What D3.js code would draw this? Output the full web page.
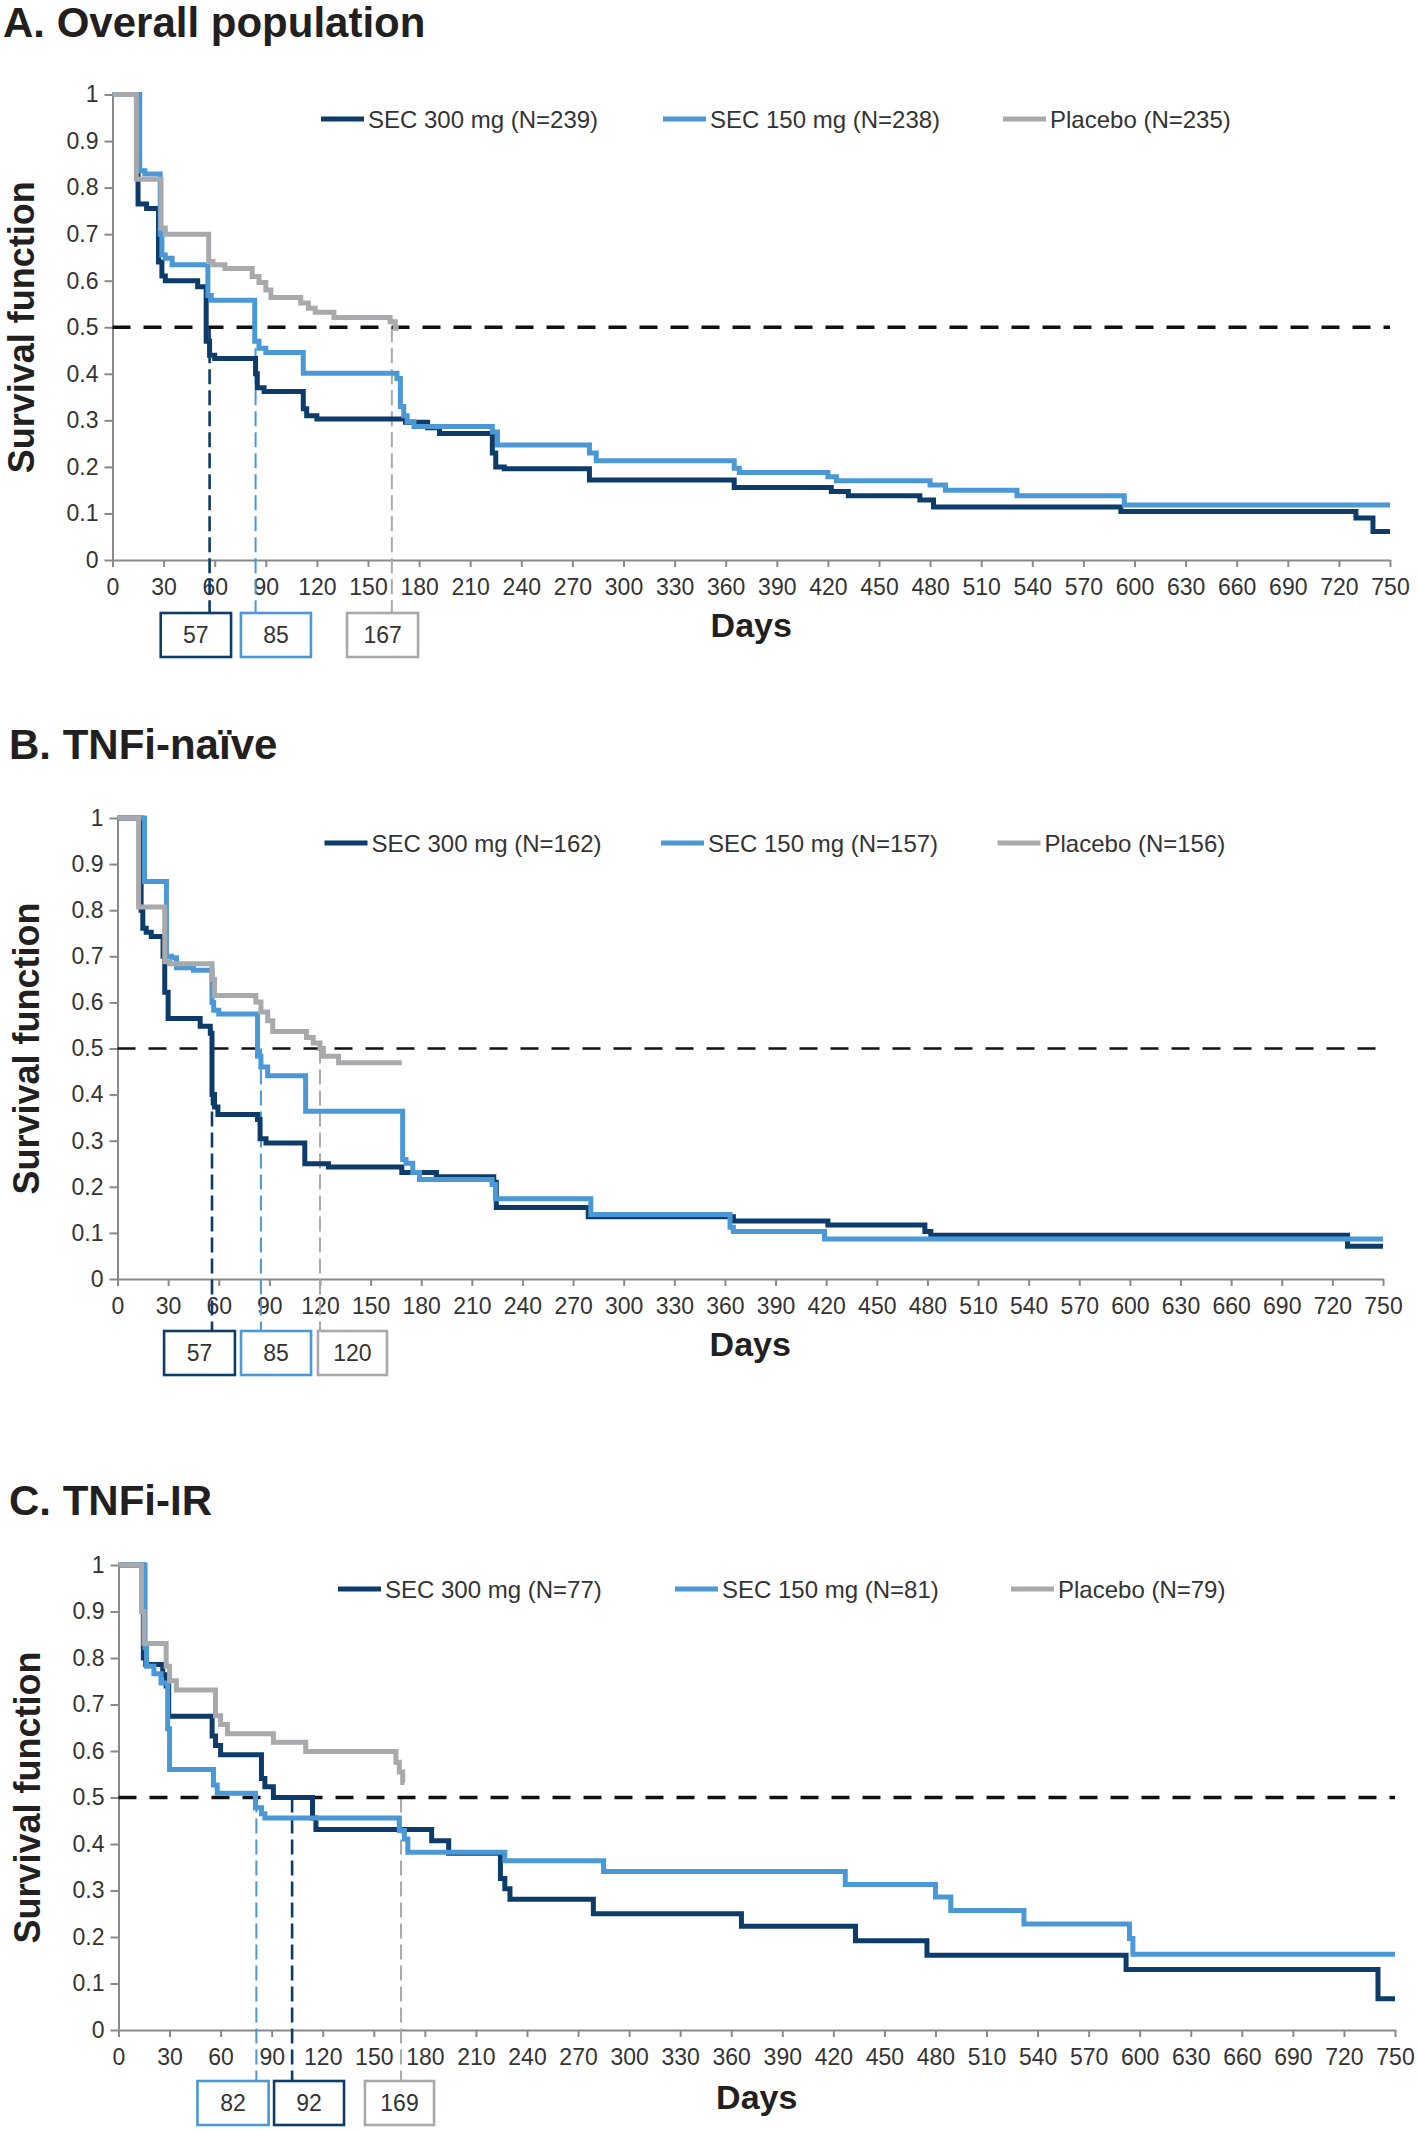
<!DOCTYPE html>
<html>
<head>
<meta charset="utf-8">
<title>Survival curves</title>
<script src="https://d3js.org/d3.v7.min.js"></script>
<style>
body { margin: 0; background: #fff; }
svg { font-family: "Liberation Sans", Arial, sans-serif; }
.axis path, .axis line { stroke: #8a8a8a; stroke-width: 2; }
.axis text { fill: #333; font-size: 23px; font-family: "Liberation Sans", Arial, sans-serif; }
</style>
</head>
<body>
<script>
// ---- data: [day, survival] at each step ----
var aDark = [[0,1],[15,0.765],[20,0.755],[27,0.64],[29,0.61],[31,0.60],[50,0.587],[55,0.47],[57,0.44],[60,0.433],[84,0.40],[85,0.37],[89,0.362],[112,0.325],[114,0.31],[120,0.303],[172,0.296],[185,0.284],[192,0.272],[223,0.23],[225,0.20],[230,0.196],[280,0.172],[365,0.156],[422,0.147],[432,0.138],[474,0.129],[482,0.114],[592,0.104],[730,0.09],[740,0.061],[750,0.061]];
var aLight = [[0,1],[16,0.836],[19,0.829],[28,0.70],[29,0.655],[31,0.648],[35,0.634],[56,0.568],[58,0.558],[83.5,0.47],[86,0.455],[90,0.446],[112,0.401],[167,0.39],[169,0.33],[171,0.31],[173,0.297],[177,0.287],[223,0.275],[226,0.247],[280,0.23],[284,0.213],[365,0.197],[368,0.188],[420,0.179],[425,0.17],[480,0.161],[489,0.15],[531,0.138],[594,0.118],[750,0.118]];
var aGray = [[0,1],[14,0.818],[28.5,0.713],[31,0.70],[56.5,0.641],[59,0.634],[66,0.626],[82,0.609],[86,0.596],[90,0.58],[93,0.564],[110.5,0.552],[115,0.541],[119,0.532],[130,0.521],[163,0.512],[166,0.498],[168,0.498]];

var bDark = [[0,1],[14,0.80],[15,0.761],[17,0.752],[20,0.743],[27,0.70],[28,0.622],[30,0.565],[49,0.548],[55,0.533],[56,0.40],[57.5,0.373],[59.5,0.357],[83,0.346],[84.5,0.304],[88,0.295],[111,0.25],[125,0.243],[168.5,0.231],[189,0.222],[223,0.21],[224.5,0.155],[279,0.135],[365,0.126],[421,0.117],[478.5,0.103],[482,0.095],[729,0.071],[750,0.071]];
var bLight = [[0,1],[16,0.862],[29,0.70],[32,0.697],[35,0.675],[45,0.67],[56,0.60],[57,0.583],[60,0.575],[83,0.483],[85,0.46],[89,0.441],[111.5,0.364],[169,0.259],[171,0.251],[175,0.231],[179,0.216],[222,0.205],[224,0.174],[280.5,0.14],[363,0.112],[365,0.103],[419,0.087],[750,0.087]];
var bGray = [[0,1],[12.5,0.807],[28,0.688],[31,0.684],[56,0.65],[57.5,0.615],[82,0.601],[85,0.579],[89,0.56],[92,0.537],[112,0.524],[116,0.512],[120,0.50],[122,0.483],[131,0.469],[168.5,0.469]];

var cDark = [[0,1],[14.6,0.80],[16,0.786],[26,0.764],[28,0.74],[29.5,0.675],[55,0.632],[57,0.612],[60,0.592],[84,0.541],[86,0.523],[91,0.50],[114,0.456],[116,0.431],[184,0.407],[194,0.38],[224.4,0.326],[227,0.304],[230,0.281],[279,0.25],[366,0.223],[433,0.192],[475,0.161],[592,0.13],[740,0.067],[750,0.067]];
var cLight = [[0,1],[15.6,0.822],[16.5,0.782],[20.8,0.766],[25,0.746],[28.9,0.648],[30,0.56],[55.8,0.527],[58,0.509],[80.5,0.478],[84,0.465],[86,0.456],[165,0.429],[168,0.411],[170,0.382],[227,0.364],[285,0.341],[427,0.313],[480,0.286],[489,0.257],[532,0.228],[594,0.197],[596,0.163],[750,0.163]];
var cGray = [[0,1],[13.5,0.90],[15,0.831],[28,0.782],[30,0.751],[34,0.731],[57,0.676],[60,0.657],[64,0.637],[91,0.619],[110,0.599],[163,0.576],[165,0.555],[167,0.532],[168,0.532]];

var groupNames = ['SEC 300 mg', 'SEC 150 mg', 'Placebo'];
var nA = [239, 238, 235];
var nB = [162, 157, 156];
var nC = [77, 81, 79];
// median days (labels) and where the guide is drawn
var medA = [57, 85, 167], guideA = [57, 84, 164];
var medB = [57, 85, 120], guideB = [56, 85, 120];
var medC = [92, 82, 169], guideC = [102, 81, 166];

var dayTicks = d3.range(0, 751, 30);
var survTicks = [0, 0.1, 0.2, 0.3, 0.4, 0.5, 0.6, 0.7, 0.8, 0.9, 1];

var colors = ['#0d3c6a', '#4a98d6', '#a7a9ac'];

// ---- layout ----
var panels = [
  { title: 'A. Overall population', titleX: 3, titleY: 37, x0: 112.5, x1: 1390, yTop: 94.5, yBot: 560,
    curves: [aDark, aLight, aGray], n: nA, med: medA, guide: guideA,
    boxes: [[0, 28.3, 69.6], [1, 75.4, 116.5], [2, 137.7, 179.4]], boxY: 613,
    legendX: [321, 663, 1003], legendY: 119, daysY: 637, labelX: 34, dashW: 3.5 },
  { title: 'B. TNFi-na\u00efve', titleX: 9, titleY: 759, x0: 117.5, x1: 1383, yTop: 818, yBot: 1279,
    curves: [bDark, bLight, bGray], n: nB, med: medB, guide: guideB,
    boxes: [[0, 27.6, 69.6], [1, 73.2, 114.7], [2, 118.8, 159.7]], boxY: 1331,
    legendX: [324.5, 661, 997.5], legendY: 843, daysY: 1356, labelX: 39, dashW: 2.6 },
  { title: 'C. TNFi-IR', titleX: 9, titleY: 1515, x0: 118.5, x1: 1395, yTop: 1565, yBot: 2030,
    curves: [cDark, cLight, cGray], n: nC, med: medC, guide: guideC,
    boxes: [[1, 46.4, 88.2], [0, 91.4, 132.5], [2, 144.8, 185.4]], boxY: 2081,
    legendX: [338, 675, 1011], legendY: 1589, daysY: 2109, labelX: 40, dashW: 3.5 }
];

var svg = d3.select('body').append('svg')
  .attr('width', 1418)
  .attr('height', 2131);

panels.forEach(function(p) {
  var x = d3.scaleLinear().domain([0, 750]).range([p.x0, p.x1]);
  var y = d3.scaleLinear().domain([0, 1]).range([p.yBot, p.yTop]);
  var g = svg.append('g');

  g.append('text')
    .attr('x', p.titleX).attr('y', p.titleY)
    .attr('fill', '#231f20')
    .style('font-size', '42px').style('font-weight', 'bold')
    .text(p.title);

  g.append('g').attr('class', 'axis')
    .attr('transform', 'translate(0,' + p.yBot + ')')
    .call(d3.axisBottom(x).tickValues(dayTicks).tickSize(7).tickPadding(12).tickSizeOuter(0));

  g.append('g').attr('class', 'axis')
    .attr('transform', 'translate(' + p.x0 + ',0)')
    .call(d3.axisLeft(y).tickValues(survTicks).tickFormat(d3.format('~g')).tickSize(8).tickPadding(6).tickSizeOuter(0));

  g.append('text')
    .attr('transform', 'translate(' + p.labelX + ',' + ((p.yTop + p.yBot) / 2) + ') rotate(-90)')
    .attr('text-anchor', 'middle')
    .attr('fill', '#231f20')
    .style('font-size', '36px').style('font-weight', 'bold')
    .text('Survival function');

  g.append('text')
    .attr('x', (p.x0 + p.x1) / 2).attr('y', p.daysY)
    .attr('text-anchor', 'middle')
    .attr('fill', '#231f20')
    .style('font-size', '34px').style('font-weight', 'bold')
    .text('Days');

  // median guides
  p.guide.forEach(function(d, i) {
    g.append('line')
      .attr('x1', x(d)).attr('x2', x(d))
      .attr('y1', y(0.5)).attr('y2', p.boxY)
      .attr('stroke', colors[i])
      .attr('stroke-width', i === 0 ? 2.6 : 2)
      .attr('stroke-dasharray', '15,6');
  });

  // 0.5 reference
  g.append('line')
    .attr('x1', x(0)).attr('x2', x(750))
    .attr('y1', y(0.5)).attr('y2', y(0.5))
    .attr('stroke', '#111')
    .attr('stroke-width', p.dashW)
    .attr('stroke-dasharray', '18,13');

  var line = d3.line()
    .x(function(d) { return x(d[0]); })
    .y(function(d) { return y(d[1]); })
    .curve(d3.curveStepAfter);

  p.curves.forEach(function(c, i) {
    g.append('path')
      .datum(c)
      .attr('d', line)
      .attr('fill', 'none')
      .attr('stroke', colors[i])
      .attr('stroke-width', 5);
  });

  // legend
  groupNames.forEach(function(name, i) {
    g.append('line')
      .attr('x1', p.legendX[i]).attr('x2', p.legendX[i] + 43)
      .attr('y1', p.legendY).attr('y2', p.legendY)
      .attr('stroke', colors[i]).attr('stroke-width', 5);
    g.append('text')
      .attr('x', p.legendX[i] + 47).attr('y', p.legendY)
      .attr('dy', '0.36em')
      .attr('fill', '#333')
      .style('font-size', '24px')
      .text(name + ' (N=' + p.n[i] + ')');
  });

  // median boxes
  p.boxes.forEach(function(b) {
    var s = b[0];
    g.append('rect')
      .attr('x', x(b[1])).attr('y', p.boxY)
      .attr('width', x(b[2]) - x(b[1])).attr('height', 44)
      .attr('fill', '#fff')
      .attr('stroke', colors[s]).attr('stroke-width', 2.6);
    g.append('text')
      .attr('x', (x(b[1]) + x(b[2])) / 2).attr('y', p.boxY + 22)
      .attr('dy', '0.36em')
      .attr('text-anchor', 'middle')
      .attr('fill', '#333')
      .style('font-size', '23px')
      .text(p.med[s]);
  });
});
</script>
</body>
</html>
